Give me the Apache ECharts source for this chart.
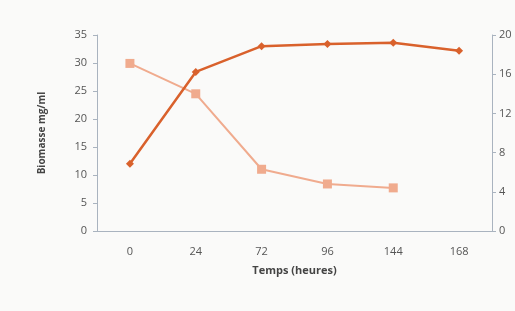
<!DOCTYPE html>
<html>
<head>
<meta charset="utf-8">
<script src="https://cdn.jsdelivr.net/npm/echarts@6/dist/echarts.min.js"></script>
<style>
  html, body { margin: 0; padding: 0; background: #fafaf9; }
  #chart { width: 515px; height: 311px; }
</style>
</head>
<body>
<div id="chart"></div>
<script>
// temps (heures)
const categories = ['0', '24', '72', '96', '144', '168'];
// biomasse mg/ml, axe gauche
const biomasse = [12.0, 28.4, 33.0, 33.4, 33.6, 32.2];
// second series, axe droit (0-20)
const second = [17.1, 14.0, 6.3, 4.8, 4.4, null];

const leftTicks = { min: 0, max: 35, interval: 5 };
const rightTicks = { min: 0, max: 20, interval: 4 };

const chart = echarts.init(document.getElementById('chart'), null, { renderer: 'canvas' });

const axisColor = '#a9b3bf';
const labelColor = '#555';

var option = {
  backgroundColor: '#fafaf9',
  animation: false,
  grid: { left: 97, right: 23, top: 35, bottom: 80 },
  xAxis: {
    type: 'category',
    data: categories,
    boundaryGap: true,
    name: 'Temps (heures)',
    nameLocation: 'middle',
    nameGap: 34,
    nameTextStyle: { color: '#444', fontSize: 11, fontWeight: 'bold', fontFamily: 'Open Sans' },
    axisLine: { lineStyle: { color: axisColor } },
    axisTick: { inside: true, length: 5, lineStyle: { color: axisColor } },
    axisLabel: { color: labelColor, fontSize: 11, margin: 15, fontFamily: 'Open Sans' }
  },
  yAxis: [{
    type: 'value',
    min: leftTicks.min,
    max: leftTicks.max,
    interval: leftTicks.interval,
    name: 'Biomasse mg/ml',
    nameLocation: 'middle',
    nameGap: 50,
    nameTextStyle: { color: '#444', fontSize: 10, fontWeight: 'bold', fontFamily: 'Open Sans' },
    axisLine: { show: true, lineStyle: { color: axisColor } },
    axisTick: { show: true, length: 4, lineStyle: { color: axisColor } },
    axisLabel: { color: labelColor, fontSize: 11, margin: 10, fontFamily: 'Open Sans' },
    splitLine: { show: false }
  }, {
    type: 'value',
    position: 'right',
    min: rightTicks.min,
    max: rightTicks.max,
    interval: rightTicks.interval,
    axisLine: { show: true, lineStyle: { color: axisColor } },
    axisTick: { show: true, length: 4, lineStyle: { color: axisColor } },
    axisLabel: { color: labelColor, fontSize: 11, margin: 7, fontFamily: 'Open Sans' },
    splitLine: { show: false }
  }],
  series: [{
    type: 'line',
    yAxisIndex: 1,
    data: second,
    symbol: 'rect',
    symbolSize: 9,
    itemStyle: { color: '#f0ab8e' },
    lineStyle: { color: '#f0ab8e', width: 2 },
    z: 2
  }, {
    type: 'line',
    yAxisIndex: 0,
    data: biomasse,
    symbol: 'diamond',
    symbolSize: 8,
    itemStyle: { color: '#d9612c' },
    lineStyle: { color: '#d9612c', width: 2.5 },
    z: 3
  }]
};

chart.setOption(option);
</script>
</body>
</html>
